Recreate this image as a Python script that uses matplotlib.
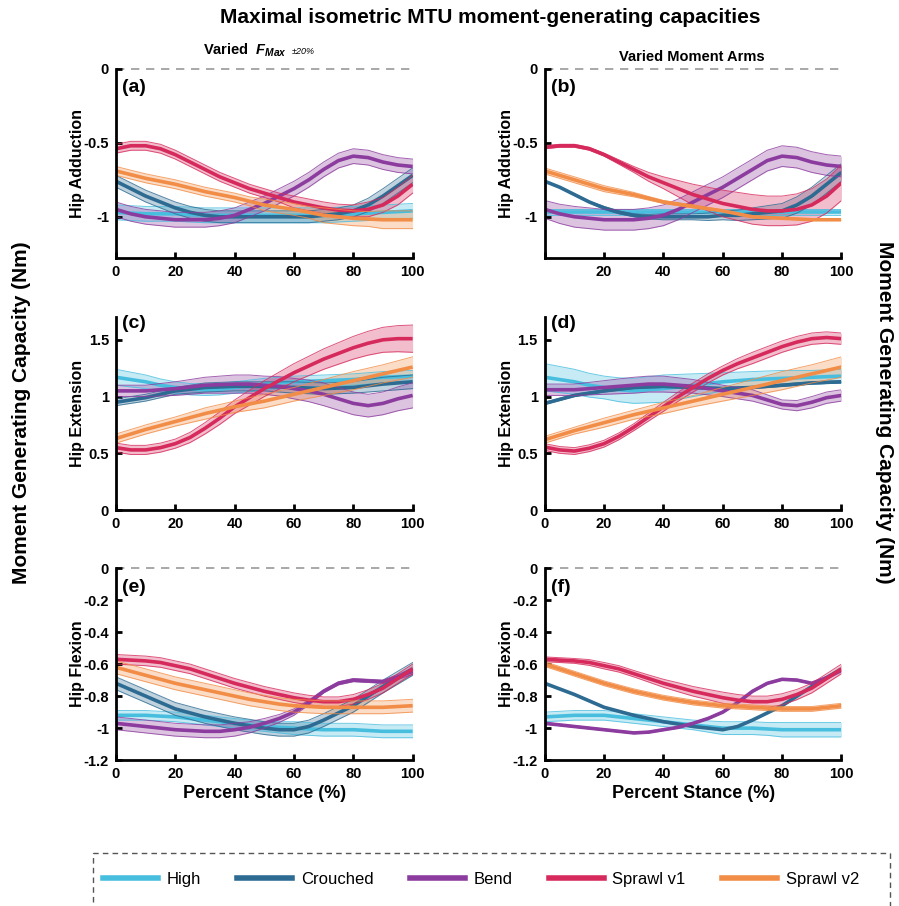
import numpy as np
import matplotlib
matplotlib.use("Agg")
import matplotlib.pyplot as plt
from matplotlib.lines import Line2D
from matplotlib.patches import Rectangle

plt.rcParams['font.family'] = ['Liberation Sans', 'DejaVu Sans']
plt.rcParams['font.weight'] = 'bold'
plt.rcParams['mathtext.fontset'] = 'custom'
plt.rcParams['mathtext.it'] = 'Liberation Sans:italic:bold'
plt.rcParams['mathtext.rm'] = 'Liberation Sans:bold'
plt.rcParams['mathtext.bf'] = 'Liberation Sans:bold'

# ---------------- data ----------------
stance = [0, 5, 10, 15, 20, 25, 30, 35, 40, 45, 50, 55, 60, 65, 70, 75, 80, 85, 90, 95, 100]
series_names = ["High", "Crouched", "Bend", "Sprawl v1", "Sprawl v2"]
series_colors = ["#48BEDF", "#2D6B92", "#8C3C9E", "#D62A5C", "#F28D47"]

# (a) Hip adduction, varied Fmax
add_fmax_high = [-0.97, -0.975, -0.98, -0.98, -0.98, -0.985, -0.99, -0.99, -0.99, -0.99, -0.99,
                 -0.99, -0.99, -0.99, -0.99, -0.985, -0.98, -0.975, -0.97, -0.965, -0.96]
add_fmax_high_sd = [0.05] * 21
add_fmax_crouched = [-0.76, -0.81, -0.86, -0.90, -0.94, -0.97, -0.99, -1.00, -1.00, -1.00, -1.00,
                     -1.00, -1.00, -1.00, -0.99, -0.98, -0.96, -0.92, -0.86, -0.79, -0.72]
add_fmax_crouched_sd = [0.04, 0.04, 0.04, 0.04, 0.04, 0.04, 0.04, 0.04, 0.04, 0.04, 0.04,
                        0.04, 0.04, 0.04, 0.04, 0.04, 0.04, 0.045, 0.05, 0.05, 0.05]
add_fmax_bend = [-0.95, -0.98, -1.00, -1.01, -1.02, -1.02, -1.02, -1.01, -0.99, -0.95, -0.91,
                 -0.86, -0.81, -0.75, -0.68, -0.62, -0.59, -0.60, -0.63, -0.65, -0.66]
add_fmax_bend_sd = [0.05] * 21
add_fmax_sprawl1 = [-0.54, -0.52, -0.52, -0.54, -0.58, -0.63, -0.68, -0.73, -0.77, -0.81, -0.84,
                    -0.87, -0.90, -0.92, -0.94, -0.955, -0.96, -0.95, -0.92, -0.86, -0.78]
add_fmax_sprawl1_sd = [0.03, 0.03, 0.03, 0.03, 0.03, 0.03, 0.03, 0.03, 0.03, 0.03, 0.03,
                       0.03, 0.04, 0.04, 0.04, 0.04, 0.04, 0.05, 0.05, 0.06, 0.06]
add_fmax_sprawl2 = [-0.69, -0.715, -0.74, -0.76, -0.78, -0.805, -0.83, -0.85, -0.87, -0.895, -0.92,
                    -0.935, -0.95, -0.97, -0.99, -1.00, -1.01, -1.015, -1.02, -1.02, -1.02]
add_fmax_sprawl2_sd = [0.03, 0.03, 0.03, 0.03, 0.03, 0.03, 0.03, 0.03, 0.03, 0.03, 0.04,
                       0.04, 0.04, 0.04, 0.05, 0.05, 0.05, 0.05, 0.06, 0.06, 0.06]

# (b) Hip adduction, varied moment arms
add_arm_high = [-0.97] * 21
add_arm_high_sd = [0.02] * 21
add_arm_crouched = [-0.76, -0.80, -0.85, -0.90, -0.94, -0.97, -0.99, -1.00, -1.00, -1.00, -1.00,
                    -1.00, -0.99, -0.99, -0.98, -0.97, -0.96, -0.92, -0.86, -0.78, -0.70]
add_arm_crouched_sd = [0.0, 0.0, 0.005, 0.005, 0.01, 0.01, 0.01, 0.015, 0.02, 0.02, 0.02,
                       0.025, 0.03, 0.035, 0.04, 0.045, 0.05, 0.055, 0.06, 0.06, 0.06]
add_arm_bend = [-0.95, -0.98, -1.00, -1.01, -1.02, -1.02, -1.02, -1.01, -0.99, -0.95, -0.90,
                -0.85, -0.80, -0.74, -0.68, -0.62, -0.59, -0.60, -0.63, -0.65, -0.66]
add_arm_bend_sd = [0.06, 0.065, 0.07, 0.07, 0.07, 0.07, 0.07, 0.07, 0.07, 0.07, 0.07,
                   0.07, 0.07, 0.07, 0.07, 0.07, 0.07, 0.07, 0.07, 0.07, 0.07]
add_arm_sprawl1 = [-0.53, -0.52, -0.52, -0.54, -0.58, -0.63, -0.68, -0.73, -0.77, -0.81, -0.85,
                   -0.88, -0.91, -0.93, -0.95, -0.96, -0.96, -0.95, -0.92, -0.86, -0.77]
add_arm_sprawl1_sd = [0.01, 0.01, 0.01, 0.01, 0.01, 0.015, 0.02, 0.03, 0.04, 0.055, 0.07,
                      0.08, 0.09, 0.095, 0.10, 0.10, 0.10, 0.105, 0.11, 0.115, 0.12]
add_arm_sprawl2 = [-0.69, -0.72, -0.75, -0.78, -0.81, -0.83, -0.85, -0.875, -0.90, -0.915, -0.93,
                   -0.945, -0.96, -0.98, -1.00, -1.005, -1.01, -1.015, -1.02, -1.02, -1.02]
add_arm_sprawl2_sd = [0.02, 0.02, 0.02, 0.02, 0.02, 0.018, 0.015, 0.012, 0.01, 0.01, 0.01,
                      0.008, 0.005, 0.005, 0.005, 0.005, 0.005, 0.005, 0.005, 0.005, 0.005]

# (c) Hip extension, varied Fmax
ext_fmax_high = [1.17, 1.15, 1.13, 1.10, 1.08, 1.065, 1.06, 1.065, 1.08, 1.095, 1.11,
                 1.12, 1.13, 1.135, 1.14, 1.145, 1.15, 1.16, 1.17, 1.175, 1.18]
ext_fmax_high_sd = [0.07, 0.065, 0.06, 0.055, 0.05, 0.05, 0.05, 0.05, 0.05, 0.05, 0.05,
                    0.05, 0.05, 0.05, 0.05, 0.05, 0.05, 0.05, 0.05, 0.05, 0.05]
ext_fmax_crouched = [0.95, 0.97, 0.99, 1.02, 1.05, 1.065, 1.08, 1.085, 1.09, 1.09, 1.09,
                     1.085, 1.08, 1.075, 1.07, 1.075, 1.08, 1.095, 1.11, 1.12, 1.13]
ext_fmax_crouched_sd = [0.03, 0.03, 0.03, 0.03, 0.03, 0.035, 0.04, 0.04, 0.04, 0.04, 0.04,
                        0.045, 0.05, 0.05, 0.05, 0.05, 0.05, 0.055, 0.06, 0.06, 0.06]
ext_fmax_bend = [1.05, 1.05, 1.05, 1.06, 1.07, 1.085, 1.10, 1.105, 1.11, 1.11, 1.10,
                 1.09, 1.07, 1.05, 1.02, 0.98, 0.94, 0.92, 0.94, 0.98, 1.01]
ext_fmax_bend_sd = [0.05, 0.05, 0.05, 0.055, 0.06, 0.065, 0.07, 0.075, 0.08, 0.08, 0.08,
                    0.085, 0.09, 0.095, 0.10, 0.10, 0.10, 0.10, 0.10, 0.105, 0.11]
ext_fmax_sprawl1 = [0.55, 0.53, 0.53, 0.55, 0.585, 0.64, 0.72, 0.81, 0.91, 0.99, 1.07,
                    1.14, 1.21, 1.27, 1.33, 1.38, 1.43, 1.47, 1.50, 1.51, 1.51]
ext_fmax_sprawl1_sd = [0.04, 0.04, 0.04, 0.04, 0.04, 0.045, 0.05, 0.055, 0.06, 0.065, 0.07,
                       0.075, 0.08, 0.085, 0.09, 0.095, 0.10, 0.105, 0.11, 0.115, 0.12]
ext_fmax_sprawl2 = [0.63, 0.67, 0.71, 0.745, 0.78, 0.815, 0.85, 0.88, 0.91, 0.935, 0.96,
                    0.99, 1.02, 1.05, 1.08, 1.11, 1.14, 1.17, 1.20, 1.23, 1.26]
ext_fmax_sprawl2_sd = [0.04, 0.04, 0.04, 0.04, 0.04, 0.045, 0.05, 0.05, 0.05, 0.055, 0.06,
                       0.06, 0.06, 0.065, 0.07, 0.075, 0.08, 0.08, 0.08, 0.085, 0.09]

# (d) Hip extension, varied moment arms
ext_arm_high = [1.17, 1.15, 1.13, 1.10, 1.08, 1.06, 1.05, 1.06, 1.07, 1.085, 1.10,
                1.115, 1.13, 1.14, 1.15, 1.155, 1.16, 1.165, 1.17, 1.175, 1.18]
ext_arm_high_sd = [0.12, 0.115, 0.11, 0.105, 0.10, 0.105, 0.11, 0.115, 0.12, 0.11, 0.10,
                   0.09, 0.08, 0.075, 0.07, 0.07, 0.07, 0.065, 0.06, 0.06, 0.06]
ext_arm_crouched = [0.94, 0.975, 1.01, 1.03, 1.05, 1.065, 1.08, 1.085, 1.09, 1.085, 1.08,
                    1.075, 1.07, 1.075, 1.08, 1.09, 1.10, 1.11, 1.12, 1.125, 1.13]
ext_arm_crouched_sd = [0.01] * 21
ext_arm_bend = [1.06, 1.06, 1.06, 1.07, 1.08, 1.09, 1.10, 1.11, 1.11, 1.10, 1.09,
                1.07, 1.05, 1.03, 1.01, 0.97, 0.93, 0.92, 0.95, 0.99, 1.01]
ext_arm_bend_sd = [0.05, 0.05, 0.05, 0.055, 0.06, 0.065, 0.07, 0.07, 0.07, 0.065, 0.06,
                   0.055, 0.05, 0.05, 0.05, 0.045, 0.04, 0.045, 0.05, 0.05, 0.05]
ext_arm_sprawl1 = [0.555, 0.53, 0.52, 0.545, 0.585, 0.65, 0.73, 0.82, 0.91, 1.00, 1.08,
                   1.16, 1.23, 1.29, 1.34, 1.39, 1.44, 1.48, 1.51, 1.52, 1.51]
ext_arm_sprawl1_sd = [0.03, 0.03, 0.03, 0.03, 0.03, 0.03, 0.03, 0.035, 0.04, 0.04, 0.04,
                      0.04, 0.04, 0.045, 0.05, 0.05, 0.05, 0.05, 0.05, 0.05, 0.05]
ext_arm_sprawl2 = [0.62, 0.66, 0.70, 0.735, 0.77, 0.805, 0.84, 0.87, 0.90, 0.93, 0.96,
                   0.99, 1.02, 1.05, 1.08, 1.11, 1.14, 1.17, 1.20, 1.23, 1.26]
ext_arm_sprawl2_sd = [0.03, 0.03, 0.03, 0.035, 0.04, 0.04, 0.04, 0.045, 0.05, 0.05, 0.05,
                      0.055, 0.06, 0.065, 0.07, 0.075, 0.08, 0.08, 0.08, 0.085, 0.09]

# (e) Hip flexion, varied Fmax
flx_fmax_high = [-0.92, -0.92, -0.92, -0.925, -0.93, -0.94, -0.95, -0.96, -0.97, -0.98, -0.99,
                 -0.995, -1.00, -1.005, -1.01, -1.01, -1.01, -1.015, -1.02, -1.02, -1.02]
flx_fmax_high_sd = [0.03, 0.03, 0.03, 0.03, 0.03, 0.03, 0.03, 0.03, 0.03, 0.03, 0.03,
                    0.035, 0.04, 0.04, 0.04, 0.04, 0.04, 0.04, 0.04, 0.04, 0.04]
flx_fmax_crouched = [-0.72, -0.76, -0.80, -0.84, -0.88, -0.905, -0.93, -0.95, -0.97, -0.985, -1.00,
                     -1.01, -1.01, -0.99, -0.95, -0.905, -0.86, -0.80, -0.74, -0.685, -0.63]
flx_fmax_crouched_sd = [0.04] * 21
flx_fmax_bend = [-0.97, -0.98, -0.99, -1.00, -1.01, -1.015, -1.02, -1.02, -1.01, -0.995, -0.97,
                 -0.94, -0.90, -0.84, -0.77, -0.72, -0.70, -0.705, -0.71, -0.68, -0.645]
flx_fmax_bend_sd = [0.04, 0.04, 0.04, 0.04, 0.04, 0.04, 0.04, 0.04, 0.04, 0.035, 0.03,
                    0.025, 0.02, 0.015, 0.01, 0.01, 0.01, 0.01, 0.01, 0.015, 0.02]
flx_fmax_sprawl1 = [-0.57, -0.575, -0.58, -0.59, -0.61, -0.63, -0.66, -0.69, -0.72, -0.745, -0.77,
                    -0.79, -0.81, -0.825, -0.835, -0.835, -0.82, -0.79, -0.75, -0.69, -0.63]
flx_fmax_sprawl1_sd = [0.03] * 21
flx_fmax_sprawl2 = [-0.62, -0.645, -0.67, -0.695, -0.72, -0.74, -0.76, -0.78, -0.80, -0.82, -0.835,
                    -0.85, -0.86, -0.865, -0.87, -0.87, -0.87, -0.87, -0.87, -0.865, -0.86]
flx_fmax_sprawl2_sd = [0.04] * 21

# (f) Hip flexion, varied moment arms
flx_arm_high = [-0.93, -0.925, -0.92, -0.92, -0.92, -0.93, -0.94, -0.95, -0.96, -0.97, -0.98,
                -0.99, -1.00, -1.00, -1.00, -1.005, -1.01, -1.01, -1.01, -1.01, -1.01]
flx_arm_high_sd = [0.03, 0.03, 0.03, 0.03, 0.03, 0.03, 0.03, 0.03, 0.03, 0.03, 0.03,
                   0.035, 0.04, 0.04, 0.04, 0.04, 0.045, 0.045, 0.045, 0.045, 0.045]
flx_arm_crouched = [-0.72, -0.755, -0.79, -0.83, -0.87, -0.895, -0.92, -0.94, -0.96, -0.975, -0.99,
                    -1.00, -1.01, -0.99, -0.95, -0.905, -0.86, -0.80, -0.74, -0.685, -0.63]
flx_arm_crouched_sd = [0.003] * 21
flx_arm_bend = [-0.97, -0.98, -0.99, -1.00, -1.01, -1.02, -1.03, -1.025, -1.01, -0.995, -0.97,
                -0.94, -0.90, -0.84, -0.77, -0.72, -0.695, -0.70, -0.72, -0.685, -0.64]
flx_arm_bend_sd = [0.005] * 21
flx_arm_sprawl1 = [-0.57, -0.575, -0.58, -0.59, -0.61, -0.63, -0.66, -0.69, -0.72, -0.745, -0.77,
                   -0.79, -0.81, -0.825, -0.835, -0.835, -0.82, -0.79, -0.75, -0.69, -0.63]
flx_arm_sprawl1_sd = [0.015, 0.015, 0.015, 0.018, 0.02, 0.02, 0.02, 0.022, 0.025, 0.028, 0.03,
                      0.032, 0.035, 0.035, 0.035, 0.035, 0.035, 0.032, 0.03, 0.03, 0.03]
flx_arm_sprawl2 = [-0.60, -0.63, -0.66, -0.69, -0.72, -0.745, -0.77, -0.79, -0.81, -0.825, -0.84,
                   -0.85, -0.86, -0.865, -0.87, -0.875, -0.88, -0.88, -0.88, -0.87, -0.86]
flx_arm_sprawl2_sd = [0.015] * 21

panel_letters = ["(a)", "(b)", "(c)", "(d)", "(e)", "(f)"]
row_labels = ["Hip Adduction", "Hip Extension", "Hip Flexion"]
row_ylims = [(-1.28, 0), (0, 1.7), (-1.2, 0)]
row_yticks = [[-1, -0.5, 0], [0, 0.5, 1, 1.5], [-1.2, -1, -0.8, -0.6, -0.4, -0.2, 0]]
row_yticklabels = [["-1", "-0.5", "0"], ["0", "0.5", "1", "1.5"],
                   ["-1.2", "-1", "-0.8", "-0.6", "-0.4", "-0.2", "0"]]
xticks = [0, 20, 40, 60, 80, 100]

panels = [
    [(add_fmax_high, add_fmax_high_sd), (add_fmax_crouched, add_fmax_crouched_sd),
     (add_fmax_bend, add_fmax_bend_sd), (add_fmax_sprawl1, add_fmax_sprawl1_sd),
     (add_fmax_sprawl2, add_fmax_sprawl2_sd)],
    [(add_arm_high, add_arm_high_sd), (add_arm_crouched, add_arm_crouched_sd),
     (add_arm_bend, add_arm_bend_sd), (add_arm_sprawl1, add_arm_sprawl1_sd),
     (add_arm_sprawl2, add_arm_sprawl2_sd)],
    [(ext_fmax_high, ext_fmax_high_sd), (ext_fmax_crouched, ext_fmax_crouched_sd),
     (ext_fmax_bend, ext_fmax_bend_sd), (ext_fmax_sprawl1, ext_fmax_sprawl1_sd),
     (ext_fmax_sprawl2, ext_fmax_sprawl2_sd)],
    [(ext_arm_high, ext_arm_high_sd), (ext_arm_crouched, ext_arm_crouched_sd),
     (ext_arm_bend, ext_arm_bend_sd), (ext_arm_sprawl1, ext_arm_sprawl1_sd),
     (ext_arm_sprawl2, ext_arm_sprawl2_sd)],
    [(flx_fmax_high, flx_fmax_high_sd), (flx_fmax_crouched, flx_fmax_crouched_sd),
     (flx_fmax_bend, flx_fmax_bend_sd), (flx_fmax_sprawl1, flx_fmax_sprawl1_sd),
     (flx_fmax_sprawl2, flx_fmax_sprawl2_sd)],
    [(flx_arm_high, flx_arm_high_sd), (flx_arm_crouched, flx_arm_crouched_sd),
     (flx_arm_bend, flx_arm_bend_sd), (flx_arm_sprawl1, flx_arm_sprawl1_sd),
     (flx_arm_sprawl2, flx_arm_sprawl2_sd)],
]

# ---------------- figure ----------------
fig = plt.figure(figsize=(8.99, 9.06), dpi=100)

col_left = [0.129, 0.606]
col_w = 0.330
row_bottom = [0.715, 0.437, 0.161]
row_h = [0.209, 0.213, 0.212]
letter_y = [0.90, 0.965, 0.90]

x = np.array(stance, dtype=float)
for i in range(6):
    r, c = divmod(i, 2)
    ax = fig.add_axes([col_left[c], row_bottom[r], col_w, row_h[r]])
    for (mean, sd), color in zip(panels[i], series_colors):
        m = np.array(mean)
        s = np.array(sd)
        ax.fill_between(x, m - s, m + s, color=color, alpha=0.30, lw=0)
        ax.plot(x, m - s, color=color, lw=0.7, alpha=0.8)
        ax.plot(x, m + s, color=color, lw=0.7, alpha=0.8)
        ax.plot(x, m, color=color, lw=2.6, solid_capstyle='butt', solid_joinstyle='round')
    ax.set_xlim(0, 100)
    ax.set_ylim(*row_ylims[r])
    ax.set_yticks(row_yticks[r])
    ax.set_yticklabels(row_yticklabels[r])
    ax.set_xticks(xticks)
    if i == 1:
        ax.set_xticklabels([""] + [str(t) for t in xticks[1:]])
    else:
        ax.set_xticklabels([str(t) for t in xticks])
    for sp in ['top', 'right']:
        ax.spines[sp].set_visible(False)
    for sp in ['left', 'bottom']:
        ax.spines[sp].set_linewidth(2.0)
    ax.tick_params(direction='in', length=4, width=2, labelsize=10.5, pad=5)
    for lab in ax.get_xticklabels() + ax.get_yticklabels():
        lab.set_fontweight('bold')
    if r != 1:
        ax.axhline(0, color='#9a9a9a', lw=1.2, ls=(0, (5, 4)), clip_on=False, zorder=0)
    ax.text(0.02, letter_y[r], panel_letters[i], transform=ax.transAxes,
            fontsize=14, fontweight='bold', va='center', ha='left')
    ax.set_ylabel(row_labels[r], fontsize=11.5, fontweight='bold')
    ax.yaxis.set_label_coords(-0.105, 0.5)
    if r == 2:
        ax.set_xlabel("Percent Stance (%)", fontsize=13, fontweight='bold', labelpad=3)

# titles
fig.text(0.545, 0.981, "Maximal isometric MTU moment-generating capacities",
         ha='center', va='center', fontsize=15, fontweight='bold')
fig.text(0.226, 0.945, r"Varied  $F_{Max}$", ha='left', va='center',
         fontsize=10.5, fontweight='bold')
fig.text(0.325, 0.943, "\u00b120%", ha='left', va='center', fontsize=6.5,
         fontstyle='italic', fontweight='normal')
fig.text(0.770, 0.937, "Varied Moment Arms", ha='center', va='center',
         fontsize=10.5, fontweight='bold')

fig.text(0.024, 0.545, "Moment Generating Capacity (Nm)", rotation=90,
         ha='center', va='center', fontsize=15, fontweight='bold')
fig.text(0.984, 0.545, "Moment Generating Capacity (Nm)", rotation=-90,
         ha='center', va='center', fontsize=15, fontweight='bold')

# legend
handles = [Line2D([0], [0], color=c, lw=4) for c in series_colors]
leg = fig.legend(handles, series_names, loc='center left',
                 bbox_to_anchor=(0.1146, 0.0298), ncol=5, frameon=False,
                 borderpad=0, borderaxespad=0, handlelength=3.3,
                 handletextpad=0.5, columnspacing=2.2,
                 prop={'size': 12, 'weight': 'normal'})
box = Rectangle((0.1035, -0.05), 0.887, 0.1085, transform=fig.transFigure,
                fill=False, ls=(0, (4, 3)), ec='#555555', lw=1.0, clip_on=False)
fig.patches.append(box)

fig.savefig("out.png", dpi=100)
